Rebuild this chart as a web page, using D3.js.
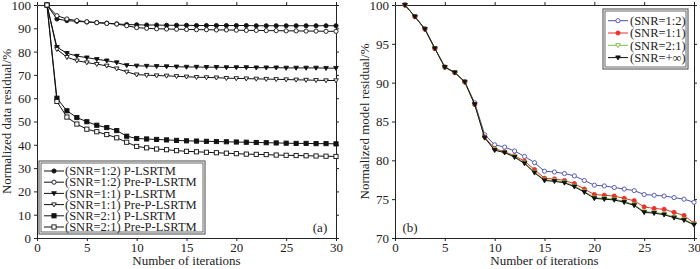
<!DOCTYPE html>
<html><head><meta charset="utf-8">
<script src="https://cdn.jsdelivr.net/npm/d3@7"></script>
<style>body{margin:0;background:#fff}svg,svg text{font-family:"Liberation Serif","Times New Roman",serif}</style>
</head><body><svg id="c" width="700" height="269"></svg>
<script>
const iterations = d3.range(1, 31);
// Panel (a): normalized data residual (%)
const snr12_P    = [100,94.0,93.3,93.0,92.7,92.5,92.2,91.9,91.6,91.5,91.4,91.4,91.3,91.3,91.3,91.2,91.2,91.2,91.2,91.2,91.2,91.1,91.1,91.1,91.1,91.1,91.1,91.1,91.1,91.1];
const snr12_Pre  = [100,95.4,94.0,93.3,92.8,92.4,92.1,91.8,91.1,90.3,90.0,89.8,89.7,89.6,89.5,89.4,89.4,89.3,89.3,89.2,89.1,89.1,89.0,89.0,88.9,88.9,88.8,88.8,88.7,88.7];
const snr11_P    = [100,81.9,79.3,78.1,77.4,76.7,76.1,75.3,74.1,73.9,73.8,73.7,73.6,73.5,73.4,73.4,73.3,73.3,73.2,73.2,73.2,73.1,73.1,73.1,73.0,73.0,73.0,73.0,72.9,72.9];
const snr11_Pre  = [100,81.0,77.6,76.1,75.3,74.6,73.9,72.7,71.3,70.1,69.9,69.7,69.6,69.4,69.2,69.0,68.9,68.8,68.6,68.5,68.4,68.3,68.2,68.1,68.0,67.9,67.8,67.7,67.6,67.6];
const snr21_P    = [100,60.0,54.6,51.7,49.9,48.4,47.4,46.1,43.7,42.7,42.5,42.3,42.1,41.9,41.7,41.6,41.5,41.4,41.3,41.2,41.1,41.0,40.9,40.8,40.7,40.6,40.6,40.5,40.5,40.4];
const snr21_Pre  = [100,58.6,51.9,48.9,46.7,45.6,44.4,43.0,41.1,39.3,38.7,38.2,37.9,37.5,37.2,37.0,36.8,36.6,36.4,36.2,36.0,35.9,35.8,35.6,35.5,35.4,35.3,35.2,35.1,35.0];
const leftLabels = ["(SNR=1:2) P-LSRTM","(SNR=1:2) Pre-P-LSRTM","(SNR=1:1) P-LSRTM","(SNR=1:1) Pre-P-LSRTM","(SNR=2:1) P-LSRTM","(SNR=2:1) Pre-P-LSRTM"];
// Panel (b): normalized model residual (%)
const model12  = [100,98.5,96.9,94.4,92.0,91.3,90.1,87.4,83.3,82.0,81.7,81.2,80.5,79.7,78.6,78.5,78.3,78.0,77.4,76.8,76.7,76.5,76.3,76.1,75.6,75.5,75.4,75.2,75.0,74.6];
const model11  = [100,98.5,96.9,94.4,92.0,91.3,90.1,87.2,83.0,81.5,81.1,80.6,79.9,78.8,77.7,77.6,77.4,77.0,76.3,75.6,75.5,75.4,75.1,74.8,74.0,73.8,73.7,73.3,72.9,71.9];
const model21  = [100,98.5,96.9,94.4,92.0,91.3,90.1,87.2,82.9,81.4,81.05,80.5,79.7,78.5,77.5,77.4,77.2,76.7,76.0,75.2,75.1,75.0,74.7,74.3,73.4,73.3,73.1,72.7,72.4,71.8];
const modelInf = [100,98.5,96.9,94.4,92.0,91.3,90.1,87.2,82.9,81.3,81.0,80.4,79.6,78.4,77.4,77.3,77.1,76.6,75.9,75.1,75.0,74.9,74.6,74.2,73.3,73.2,73.0,72.6,72.3,71.7];
const rightLabels = ["(SNR=1:2)","(SNR=1:1)","(SNR=2:1)","(SNR=+\u221e)"];
const xTicks = [0,5,10,15,20,25,30];
const yTicksA = [0,10,20,30,40,50,60,70,80,90,100];
const yTicksB = [70,75,80,85,90,95,100];

const svg = d3.select("#c");
const FS = 13;
const FF = "Liberation Serif, Times New Roman, serif";

function frame(x, y, yTicks, yTitle) {
  const g = svg.append("g");
  const [x0,x1] = x.range(), [y0,y1] = y.range();
  const ax = (sel)=>sel.attr("font-family",FF).call(s=>s.select(".domain").attr("stroke","#222")).call(s=>s.selectAll("line").attr("stroke","#222"));
  g.append("g").attr("transform",`translate(0,${y0})`).call(d3.axisBottom(x).tickValues(xTicks).tickSize(3).tickPadding(2).tickSizeOuter(0))
    .call(ax).selectAll("text").attr("font-size",FS).attr("fill","#222");
  g.append("g").attr("transform",`translate(0,${y1})`).call(d3.axisTop(x).tickValues(xTicks).tickSize(3).tickFormat("").tickSizeOuter(0)).call(ax);
  g.append("g").attr("transform",`translate(${x0},0)`).call(d3.axisLeft(y).tickValues(yTicks).tickSize(3).tickPadding(3).tickSizeOuter(0))
    .call(ax).selectAll("text").attr("font-size",FS).attr("fill","#222").attr("dy","0.34em");
  g.append("g").attr("transform",`translate(${x1},0)`).call(d3.axisRight(y).tickValues(yTicks).tickSize(3).tickFormat("").tickSizeOuter(0)).call(ax);
  svg.append("text").attr("x",(x0+x1)/2).attr("y",265).attr("text-anchor","middle").attr("font-family",FF).attr("font-size",FS).attr("fill","#222").text("Number of iterations");
  svg.append("text").attr("transform",`translate(${x0-26},${(y0+y1)/2}) rotate(-90)`).attr("text-anchor","middle").attr("font-family",FF).attr("font-size",FS).attr("fill","#222").text(yTitle);
}

function marker(g, type, cx, cy, color, r) {
  const fill = type.filled ? color : "#fff";
  if (type.shape === "circle") g.append("circle").attr("cx",cx).attr("cy",cy).attr("r",r).attr("fill",fill).attr("stroke",color).attr("stroke-width",0.9);
  else if (type.shape === "square") g.append("rect").attr("x",cx-r).attr("y",cy-r).attr("width",2*r).attr("height",2*r).attr("fill",fill).attr("stroke",color).attr("stroke-width",0.9);
  else g.append("path").attr("d",`M${cx-r*1.1},${cy-r*0.8}L${cx+r*1.1},${cy-r*0.8}L${cx},${cy+r*1.1}Z`).attr("fill",fill).attr("stroke",color).attr("stroke-width",0.9);
}

function draw(x, y, data, type, color, r) {
  const g = svg.append("g");
  const line = d3.line().x((d,i)=>x(iterations[i])).y(d=>y(d));
  g.append("path").attr("d",line(data)).attr("fill","none").attr("stroke",color).attr("stroke-width",1);
  data.forEach((d,i)=>marker(g,type,x(iterations[i]),y(d),color,r));
}

// Panel (a)
const xa = d3.scaleLinear().domain([0,30]).range([37,336]);
const ya = d3.scaleLinear().domain([0,100]).range([238,5]);
frame(xa, ya, yTicksA, "Normalized data residual/%");
const typesA = [{shape:"circle",filled:true},{shape:"circle",filled:false},{shape:"tri",filled:true},{shape:"tri",filled:false},{shape:"square",filled:true},{shape:"square",filled:false}];
const seriesA = [snr12_P,snr12_Pre,snr11_P,snr11_Pre,snr21_P,snr21_Pre];
seriesA.forEach((s,i)=>draw(xa,ya,s,typesA[i],"#111",2.1));
// legend (a)
const la = svg.append("g");
la.append("rect").attr("x",39).attr("y",161).attr("width",166).attr("height",73).attr("fill","#fff").attr("stroke","#444").attr("stroke-width",1);
la.append("rect").attr("x",41).attr("y",163).attr("width",162).attr("height",69).attr("fill","none").attr("stroke","#444").attr("stroke-width",0.8);
leftLabels.forEach((t,i)=>{
  const cy = 171 + i*11.2;
  la.append("line").attr("x1",44).attr("x2",64).attr("y1",cy).attr("y2",cy).attr("stroke","#111");
  marker(la,typesA[i],54,cy,"#111",2.1);
  la.append("text").attr("x",65).attr("y",cy+4.2).attr("font-family",FF).attr("font-size",12.5).attr("fill","#222").text(t);
});
svg.append("text").attr("x",320).attr("y",232).attr("text-anchor","middle").attr("font-family",FF).attr("font-size",FS).attr("fill","#222").text("(a)");

// Panel (b)
const xb = d3.scaleLinear().domain([0,30]).range([395,694]);
const yb = d3.scaleLinear().domain([70,100]).range([238,5]);
frame(xb, yb, yTicksB, "Normalized model residual/%");
const colorsB = ["#4a52a8","#e8322a","#78c043","#111"];
const typesB = [{shape:"circle",filled:false},{shape:"circle",filled:true},{shape:"tri",filled:false},{shape:"tri",filled:true}];
const seriesB = [model12,model11,model21,modelInf];
seriesB.forEach((s,i)=>draw(xb,yb,s,typesB[i],colorsB[i],2.1));
const lb = svg.append("g");
lb.append("rect").attr("x",603).attr("y",9).attr("width",85).attr("height",60).attr("fill","#fff").attr("stroke","#444").attr("stroke-width",1);
lb.append("rect").attr("x",605).attr("y",11).attr("width",81).attr("height",56).attr("fill","none").attr("stroke","#444").attr("stroke-width",0.8);
rightLabels.forEach((t,i)=>{
  const cy = 20.7 + i*12.3;
  lb.append("line").attr("x1",608).attr("x2",628).attr("y1",cy).attr("y2",cy).attr("stroke",colorsB[i]);
  marker(lb,typesB[i],618,cy,colorsB[i],2.1);
  lb.append("text").attr("x",630).attr("y",cy+4.3).attr("font-family",FF).attr("font-size",12.5).attr("fill","#222").text(t);
});
svg.append("text").attr("x",410).attr("y",232).attr("text-anchor","middle").attr("font-family",FF).attr("font-size",FS).attr("fill","#222").text("(b)");
</script></body></html>
